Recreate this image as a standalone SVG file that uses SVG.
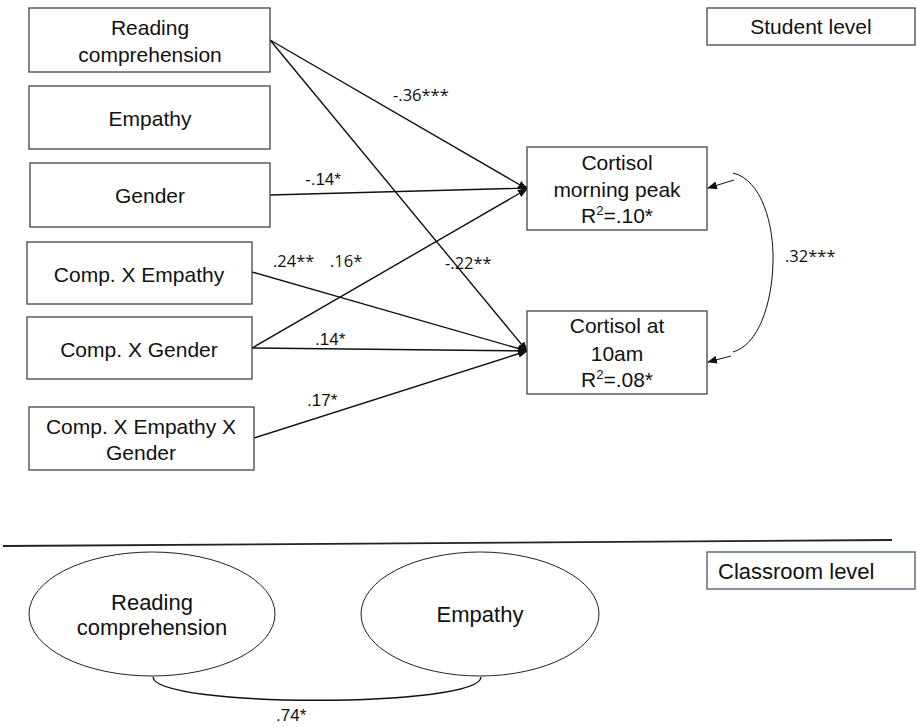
<svg xmlns="http://www.w3.org/2000/svg" width="917" height="727" viewBox="0 0 917 727">
<style>
.box{fill:#fff;stroke:#444;stroke-width:1.3}
.ell{fill:#fff;stroke:#222;stroke-width:1}
.t{font-family:"Liberation Sans",Arial,sans-serif;font-size:21px;fill:#111;text-anchor:middle}
.tl{font-family:"Liberation Sans",Arial,sans-serif;font-size:22px;fill:#111}
.lab{font-family:"Open Sans","DejaVu Sans",sans-serif;font-size:16.5px;fill:#111}
.labA{font-family:"Liberation Sans",Arial,sans-serif;font-size:17px;fill:#111}
.c{fill:none;stroke:#111;stroke-width:1.4}
.thin{fill:none;stroke:#111;stroke-width:1}
</style>
<defs>
<marker id="ah" markerWidth="10" markerHeight="8" refX="9" refY="4" orient="auto" markerUnits="userSpaceOnUse">
<path d="M0,0 L10,4 L0,8 z" fill="#111"/>
</marker>
</defs>

<g id="connectors">
<line class="c" x1="270" y1="40" x2="527" y2="189" marker-end="url(#ah)"/>
<line class="c" x1="270" y1="40" x2="527" y2="351" marker-end="url(#ah)"/>
<line class="c" x1="270" y1="195" x2="530" y2="188" marker-end="url(#ah)"/>
<line class="c" x1="252" y1="272" x2="527" y2="351" marker-end="url(#ah)"/>
<line class="c" x1="252" y1="348" x2="527" y2="189" marker-end="url(#ah)"/>
<line class="c" x1="252" y1="348" x2="527" y2="351" marker-end="url(#ah)"/>
<path class="c" d="M254,438 Q400,392 527,351" marker-end="url(#ah)"/>
<path class="thin" d="M733,173 C762,180 774,225 773,262 C772,305 758,345 733,352"/>
<line class="thin" x1="734" y1="180" x2="708" y2="188" marker-end="url(#ah)"/>
<line class="thin" x1="731" y1="356" x2="708" y2="362" marker-end="url(#ah)"/>
<path class="c" d="M153,677 C155,708 480,708 481,677"/>
<line x1="3" y1="546" x2="892" y2="540" stroke="#222" stroke-width="1.8"/>
<text class="lab" x="393" y="101">-.36***</text>
<text class="labA" x="305" y="185">-.14*</text>
<text class="lab" x="273" y="267">.24**</text>
<text class="lab" x="330" y="267">.16*</text>
<text class="lab" x="445" y="269">-.22**</text>
<text class="labA" x="315" y="345">.14*</text>
<text class="labA" x="307" y="406">.17*</text>
<text class="lab" x="785" y="262">.32***</text>
<text class="labA" x="276" y="721">.74*</text>
</g>

<g id="reading">
<rect class="box" x="29" y="8" width="241" height="64"/>
<text class="t" x="150" y="35">Reading</text>
<text class="t" x="150" y="62">comprehension</text>
</g>
<g id="empathy">
<rect class="box" x="29" y="86" width="241" height="63"/>
<text class="t" x="150" y="126">Empathy</text>
</g>
<g id="gender">
<rect class="box" x="30" y="163" width="240" height="64"/>
<text class="t" x="150" y="203">Gender</text>
</g>
<g id="compEmp">
<rect class="box" x="27" y="242" width="225" height="62"/>
<text class="t" x="139" y="282">Comp. X Empathy</text>
</g>
<g id="compGen">
<rect class="box" x="27" y="317" width="225" height="62"/>
<text class="t" x="139" y="357">Comp. X Gender</text>
</g>
<g id="compEmpGen">
<rect class="box" x="29" y="407" width="225" height="63"/>
<text class="t" x="141" y="434">Comp. X Empathy X</text>
<text class="t" x="141" y="460">Gender</text>
</g>
<g id="cortPeak">
<rect class="box" x="527" y="147" width="180" height="83"/>
<text class="t" x="617" y="170">Cortisol</text>
<text class="t" x="617" y="197">morning peak</text>
<text class="t" x="617" y="223">R<tspan font-size="13" dy="-8">2</tspan><tspan dy="8">=.10*</tspan></text>
</g>
<g id="cort10">
<rect class="box" x="527" y="311" width="180" height="83"/>
<text class="t" x="617" y="333">Cortisol at</text>
<text class="t" x="617" y="361">10am</text>
<text class="t" x="617" y="387">R<tspan font-size="13" dy="-8">2</tspan><tspan dy="8">=.08*</tspan></text>
</g>
<g id="studentLevel">
<rect class="box" x="707" y="8" width="208" height="37"/>
<text class="t" x="811" y="34">Student level</text>
</g>
<g id="classroomLevel">
<rect x="707" y="552" width="208" height="37" fill="#fff" stroke="#4a5570" stroke-width="1.3"/>
<text class="tl" x="718" y="579">Classroom level</text>
</g>
<g id="readingL2">
<ellipse class="ell" cx="152" cy="614" rx="123" ry="62"/>
<text class="t" x="152" y="610" style="font-size:22px">Reading</text>
<text class="t" x="152" y="635" style="font-size:22px">comprehension</text>
</g>
<g id="empathyL2">
<ellipse class="ell" cx="480" cy="614" rx="119" ry="62"/>
<text class="t" x="480" y="622" style="font-size:22px">Empathy</text>
</g>
</svg>
